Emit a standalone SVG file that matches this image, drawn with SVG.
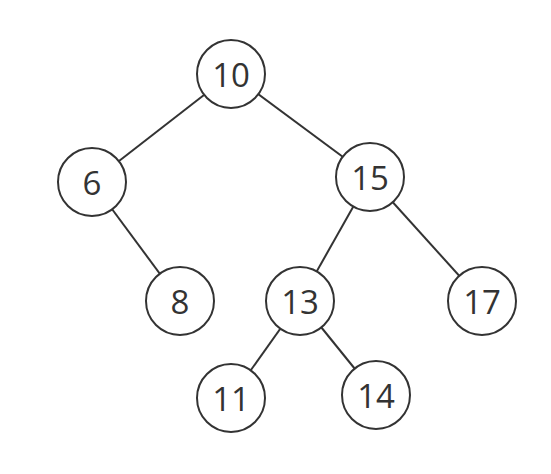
<svg xmlns="http://www.w3.org/2000/svg" width="551" height="474" viewBox="0 0 551 474">
<style>
.e{stroke:#333;stroke-width:2;fill:none}
.n circle{fill:#fff;stroke:#333;stroke-width:2}
.n text{font-family:"Open Sans","Noto Sans",sans-serif;font-size:33px;fill:#333;text-anchor:middle;dominant-baseline:central}
</style>
<rect width="551" height="474" fill="#fff"/>
<g id="edges">
<line class="e" x1="231" y1="74" x2="92" y2="182"/>
<line class="e" x1="231" y1="74" x2="370" y2="177"/>
<line class="e" x1="92" y1="182" x2="180" y2="301"/>
<line class="e" x1="370" y1="177" x2="300" y2="301"/>
<line class="e" x1="370" y1="177" x2="482" y2="301"/>
<line class="e" x1="300" y1="301" x2="231" y2="398"/>
<line class="e" x1="300" y1="301" x2="376" y2="395"/>
</g>
<g id="n10" class="n"><circle cx="231" cy="74" r="34"/><text x="231" y="74">10</text></g>
<g id="n6" class="n"><circle cx="92" cy="182" r="34"/><text x="92" y="182">6</text></g>
<g id="n15" class="n"><circle cx="370" cy="177" r="34"/><text x="370" y="177">15</text></g>
<g id="n8" class="n"><circle cx="180" cy="301" r="34"/><text x="180" y="301">8</text></g>
<g id="n13" class="n"><circle cx="300" cy="301" r="34"/><text x="300" y="301">13</text></g>
<g id="n17" class="n"><circle cx="482" cy="301" r="34"/><text x="482" y="301">17</text></g>
<g id="n11" class="n"><circle cx="231" cy="398" r="34"/><text x="231" y="398">11</text></g>
<g id="n14" class="n"><circle cx="376" cy="395" r="34"/><text x="376" y="395">14</text></g>
</svg>
